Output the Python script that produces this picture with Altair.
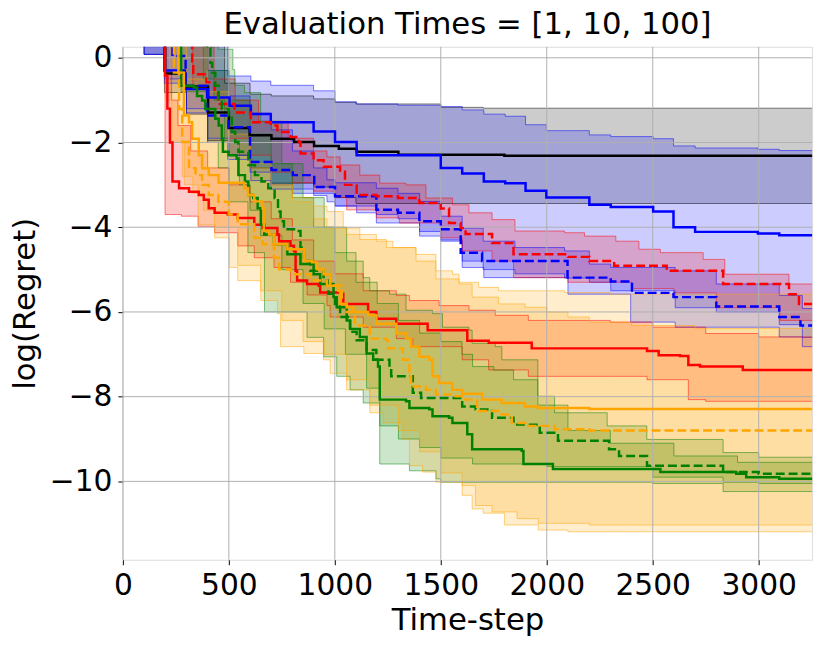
import altair as alt
import pandas as pd

FONT = "DejaVu Sans"

X_TICKS = [0, 500, 1000, 1500, 2000, 2500, 3000]
Y_TICKS = [0, -2, -4, -6, -8, -10]
X_MAX = 3252
Y_MIN, Y_MAX = -11.85, 0.26
T_END = 3300

# ---------------- series data (time-step, log regret) ----------------
black_line = [(0, 0.6), (200, -0.37), (294, -0.68), (402, -1.29), (500, -1.66), (598, -1.83), (701, -1.91),
              (808, -1.99), (902, -2.08), (1019, -2.15), (1103, -2.22), (1300, -2.29), (1800, -2.31)]
black_hi = [(0, 0.6), (480, -0.6), (600, -0.86), (700, -0.90), (900, -0.97), (1000, -1.05), (1100, -1.09),
            (1500, -1.17), (1700, -1.19)]
black_lo = [(0, 0.6), (100, 0.08), (196, -0.82), (300, -1.33), (400, -1.95), (500, -2.3), (600, -2.6),
            (700, -2.96), (900, -3.05), (1000, -3.3), (1100, -3.44)]

blue_solid_line = [(0, 0.6), (196, -0.3), (293, -0.74), (402, -0.94), (503, -1.13), (604, -1.33), (698, -1.52),
                   (900, -1.74), (1001, -1.99), (1103, -2.30), (1500, -2.60), (1601, -2.73), (1703, -2.92),
                   (1804, -2.96), (1900, -3.14), (1998, -3.30), (2201, -3.47), (2302, -3.52), (2502, -3.63),
                   (2598, -4.00), (2700, -4.11), (2996, -4.15), (3097, -4.19)]
blue_solid_hi = [(0, 0.6), (495, -0.43), (604, -0.55), (698, -0.65), (900, -0.78), (1001, -1.04), (1103, -1.09),
                 (1298, -1.12), (1500, -1.15), (1601, -1.23), (1703, -1.33), (1804, -1.38), (1900, -1.58),
                 (1998, -1.72), (2201, -1.82), (2302, -1.86), (2502, -1.91), (2598, -2.08), (2700, -2.13),
                 (2996, -2.16), (3097, -2.19)]
blue_solid_lo = [(0, 0.6), (100, 0.08), (196, -0.6), (300, -1.3), (400, -2.0), (495, -2.4), (604, -2.9),
                 (698, -3.1), (900, -3.2), (1001, -3.5), (1103, -3.66), (1196, -3.9), (1400, -4.21), (1500, -4.33),
                 (1601, -4.95), (1703, -5.19), (2100, -5.58), (2396, -6.24), (2606, -6.36), (3097, -6.59),
                 (3206, -6.82)]

blue_dashed_line = [(0, 0.6), (234, 0.04), (296, -0.66), (397, -1.36), (499, -1.64), (600, -2.46), (701, -2.65),
                    (802, -2.77), (903, -3.05), (1001, -3.27), (1196, -3.59), (1298, -3.66), (1399, -3.86),
                    (1500, -4.05), (1594, -4.60), (1695, -4.80), (2098, -5.19), (2302, -5.28), (2402, -5.55),
                    (2598, -5.65), (2800, -5.87), (3097, -6.12), (3197, -6.32)]
blue_dashed_hi = [(0, 0.6), (400, -0.3), (500, -0.9), (600, -1.3), (700, -1.7), (800, -2.2),
                  (900, -2.6), (963, -2.88), (1001, -2.95), (1196, -3.08), (1298, -3.2), (1400, -3.39),
                  (1500, -3.74), (1601, -4.02), (1700, -4.33), (1850, -4.48), (2084, -4.56), (2201, -4.87),
                  (2302, -4.95), (2606, -5.03), (2800, -5.34), (3097, -5.61), (3206, -5.92)]
blue_dashed_lo = [(0, 0.6), (100, 0.08), (196, -0.5), (300, -1.2), (400, -1.9), (500, -2.3), (600, -2.7),
                  (700, -3.0), (800, -3.2), (900, -3.25), (963, -3.4), (1001, -3.5), (1196, -3.7), (1298, -3.8),
                  (1400, -4.1), (1500, -4.3), (1601, -4.8), (1700, -5.0), (1850, -5.1), (2084, -5.2),
                  (2201, -5.3), (2302, -5.5), (2606, -5.9), (2800, -6.0), (3097, -6.3), (3206, -6.6)]

red_solid_line = [(0, 0.6), (199, -0.42), (210, -1.2), (222, -2.0), (234, -2.92), (265, -3.08), (312, -3.16),
                  (358, -3.24), (382, -3.35), (405, -3.55), (433, -3.66), (495, -3.70), (542, -3.78), (620, -3.94),
                  (659, -4.02), (729, -4.17), (737, -4.33), (791, -4.44), (807, -4.56), (815, -5.03), (822, -5.26),
                  (869, -5.34), (924, -5.38), (931, -5.54), (1025, -5.57), (1040, -5.81), (1157, -6.00),
                  (1196, -6.16), (1290, -6.28), (1438, -6.43), (1625, -6.68), (1726, -6.73), (1929, -6.86),
                  (2473, -6.92), (2528, -7.02), (2629, -7.04), (2668, -7.25), (2723, -7.29), (2925, -7.37)]
red_solid_hi = [(0, 0.6), (199, -0.3), (230, -1.0), (260, -1.6), (320, -2.2), (400, -2.6), (500, -3.0),
                (600, -3.4), (700, -3.8), (800, -4.3), (900, -4.8), (1000, -5.1), (1134, -5.50), (1290, -5.61),
                (1352, -5.73), (1492, -5.85), (1633, -5.96), (1757, -6.08), (1913, -6.20), (2300, -6.24),
                (2500, -6.36), (2750, -6.51), (3000, -6.59)]
red_solid_lo = [(0, 0.6), (199, -3.70), (276, -3.74), (355, -3.98), (433, -4.13), (542, -4.44), (620, -4.72),
                (713, -4.95), (791, -5.3), (869, -5.6), (963, -5.85), (978, -6.12), (1134, -6.36), (1290, -6.63),
                (1368, -6.82), (1601, -7.13), (1726, -7.37), (1913, -7.52), (2473, -7.60), (2668, -8.07),
                (2750, -8.11)]

red_dashed_line = [(0, 0.6), (327, -0.08), (332, -0.39), (394, -0.58), (433, -0.82), (449, -1.09), (527, -1.29),
                   (604, -1.52), (698, -1.60), (729, -1.75), (791, -1.87), (830, -1.99), (838, -2.26), (900, -2.42),
                   (947, -2.57), (1025, -2.69), (1048, -3.0), (1103, -3.24), (1196, -3.27), (1298, -3.31),
                   (1399, -3.43), (1500, -3.56), (1539, -3.90), (1594, -4.02), (1617, -4.16), (1742, -4.37),
                   (1843, -4.64), (2100, -4.70), (2201, -4.80), (2318, -4.91), (2566, -5.03), (2832, -5.34),
                   (3143, -5.58), (3190, -5.81)]
red_dashed_hi = [(0, 0.6), (430, -0.5), (530, -1.0), (640, -1.5), (780, -1.9), (900, -2.2), (963, -2.34),
                 (1025, -2.53), (1118, -2.77), (1212, -2.96), (1336, -3.0), (1430, -3.31), (1555, -3.47),
                 (1633, -3.66), (1742, -3.82), (1850, -4.09), (2084, -4.13), (2178, -4.21), (2326, -4.33),
                 (2435, -4.52), (2536, -4.60), (2738, -4.76), (2840, -5.11), (3143, -5.34)]
red_dashed_lo = [(0, 0.6), (330, -0.7), (400, -1.2), (500, -1.9), (600, -2.3), (700, -2.7), (800, -2.95),
                 (900, -3.15), (1000, -3.3), (1056, -3.59), (1196, -3.78), (1305, -3.90), (1500, -4.25),
                 (1601, -4.56), (1742, -4.80), (1843, -5.19), (2100, -5.3), (2400, -5.45), (2600, -5.55),
                 (2800, -5.9), (3100, -6.2)]

orange_solid_line = [(0, 0.6), (262, -0.35), (288, -1.36), (312, -1.52), (327, -1.91), (358, -2.30), (374, -2.61),
                     (405, -2.77), (452, -2.95), (573, -3.08), (590, -3.24), (620, -3.39), (659, -3.55),
                     (665, -4.09), (690, -4.17), (713, -4.40), (776, -4.52), (854, -4.80), (892, -4.83),
                     (916, -4.99), (947, -5.11), (978, -5.38), (1017, -5.50), (1025, -5.81), (1056, -5.89),
                     (1087, -6.00), (1157, -6.08), (1196, -6.28), (1290, -6.51), (1336, -6.63), (1360, -6.82),
                     (1399, -7.06), (1446, -7.13), (1461, -7.52), (1492, -7.68), (1555, -7.84), (1601, -7.93),
                     (1695, -8.07), (1788, -8.15), (1897, -8.23), (1958, -8.27), (2200, -8.29)]
orange_solid_hi = [(0, 0.6), (300, -0.5), (400, -1.3), (500, -2.0), (600, -2.6), (700, -3.0),
                   (800, -3.3), (900, -3.5), (963, -3.63), (1040, -4.02), (1118, -4.17), (1196, -4.33),
                   (1274, -4.48), (1383, -4.64), (1477, -5.03), (1555, -5.11), (1586, -5.30), (1679, -5.42),
                   (1773, -5.50), (2084, -5.54), (2300, -5.58)]
orange_solid_lo = [(0, 0.6), (200, -1.0), (230, -2.0), (290, -3.0), (355, -3.94), (433, -4.25), (503, -4.95),
                   (542, -5.26), (651, -5.73), (729, -6.04), (744, -6.82), (854, -6.98), (947, -7.13),
                   (978, -7.45), (1056, -7.84), (1165, -8.38), (1228, -8.62), (1321, -9.01), (1352, -9.63),
                   (1414, -9.78), (1477, -10.02), (1601, -10.33), (1648, -10.65), (1700, -10.75), (1800, -11.03),
                   (1960, -11.15), (2100, -11.19)]

orange_dashed_line = [(0, 0.6), (241, -0.35), (265, -1.21), (280, -1.99), (312, -2.61), (343, -2.77), (374, -3.0),
                      (405, -3.24), (450, -3.4), (500, -3.7), (542, -3.93), (620, -4.25), (659, -4.40),
                      (713, -4.72), (737, -4.99), (791, -5.11), (885, -5.26), (963, -5.38), (1033, -5.81),
                      (1056, -6.00), (1095, -6.32), (1150, -6.36), (1165, -6.63), (1243, -6.67), (1251, -6.86),
                      (1321, -7.13), (1352, -7.45), (1360, -7.76), (1430, -7.84), (1477, -7.95), (1570, -7.99),
                      (1617, -8.07), (1671, -8.34), (1788, -8.42), (1835, -8.62), (1913, -8.69), (2037, -8.77),
                      (2200, -8.80)]
orange_dashed_hi = [(0, 0.6), (400, -0.8), (500, -1.8), (600, -2.5), (700, -3.0), (800, -3.4),
                    (900, -3.8), (963, -4.02), (1056, -4.17), (1118, -4.29), (1243, -4.48), (1383, -4.80),
                    (1477, -5.22), (1586, -5.34), (1648, -5.65), (1773, -5.81), (1897, -5.89), (2000, -6.0),
                    (2100, -6.12), (2200, -6.24), (2400, -6.32), (2700, -6.39)]
orange_dashed_lo = [(0, 0.6), (220, -2.0), (280, -2.8), (330, -3.2), (380, -3.6), (433, -4.0), (542, -4.9),
                    (650, -5.5), (750, -6.2), (850, -6.7), (950, -7.0), (1056, -7.6), (1165, -8.2), (1300, -8.8),
                    (1400, -9.3), (1500, -9.8), (1600, -10.1), (1664, -10.57), (1742, -10.72), (1860, -10.88),
                    (1960, -10.99), (2200, -11.03)]

green_solid_line = [(0, 0.6), (275, -0.66), (335, -0.70), (350, -0.90), (374, -1.01), (389, -1.21), (436, -1.44),
                    (452, -1.60), (467, -1.91), (472, -2.22), (499, -2.30), (537, -2.38), (545, -2.77),
                    (576, -2.92), (592, -3.24), (615, -3.31), (636, -3.55), (651, -3.94), (667, -4.17),
                    (713, -4.40), (776, -4.64), (838, -4.87), (900, -5.11), (931, -5.34), (994, -5.65),
                    (1009, -5.89), (1056, -6.20), (1072, -6.40), (1118, -6.59), (1150, -6.98), (1181, -7.13),
                    (1204, -7.29), (1212, -8.07), (1336, -8.11), (1352, -8.27), (1446, -8.30), (1461, -8.46),
                    (1539, -8.50), (1555, -8.62), (1625, -8.89), (1648, -9.24), (1882, -9.28), (1890, -9.59),
                    (2029, -9.71), (2536, -9.78), (2894, -9.82), (2941, -9.90), (3097, -9.94)]
green_solid_hi = [(0, 0.6), (400, -0.3), (500, -1.0), (600, -1.8), (700, -2.5), (800, -3.3),
                  (900, -4.0), (1000, -4.6), (1100, -5.3), (1200, -5.8), (1300, -6.2), (1400, -6.5), (1500, -6.7),
                  (1600, -7.0), (1650, -7.29), (1750, -7.37), (1843, -7.60), (1958, -8.2), (2100, -8.8),
                  (2300, -9.1), (2600, -9.4), (2900, -9.55)]
green_solid_lo = [(0, 0.6), (275, -0.8), (400, -2.0), (450, -2.6), (500, -3.4), (590, -4.6), (668, -6.0),
                  (869, -6.6), (947, -7.06), (1009, -7.52), (1072, -7.84), (1134, -8.15), (1212, -9.59),
                  (1352, -9.75), (1477, -9.94), (1500, -10.02), (2500, -10.05), (2832, -10.24)]

green_dashed_line = [(0, 0.6), (397, 0.23), (413, -0.12), (421, -0.35), (436, -0.66), (452, -0.97), (467, -1.21),
                     (499, -1.36), (514, -1.75), (530, -1.99), (545, -2.22), (592, -2.53), (623, -2.77),
                     (654, -2.92), (686, -3.08), (716, -3.31), (732, -3.63), (744, -3.86), (760, -4.05),
                     (822, -4.09), (838, -4.48), (854, -4.80), (885, -5.03), (947, -5.26), (970, -5.57),
                     (1001, -5.81), (1025, -6.12), (1072, -6.47), (1103, -6.67), (1150, -6.90), (1196, -7.13),
                     (1258, -7.33), (1266, -7.52), (1368, -7.91), (1407, -8.03), (1601, -8.23), (1664, -8.30),
                     (1742, -8.50), (1843, -8.66), (1967, -8.85), (2053, -9.04), (2294, -9.24), (2341, -9.40),
                     (2473, -9.63), (2832, -9.78), (3000, -9.82)]
green_dashed_hi = [(0, 0.6), (450, 0.2), (519, -0.28), (528, -0.65), (574, -0.82), (650, -1.5),
                   (750, -2.5), (850, -3.3), (950, -4.0), (1056, -4.80), (1134, -5.19), (1165, -5.50),
                   (1258, -5.58), (1336, -5.96), (1461, -6.04), (1508, -6.36), (1633, -6.43), (1648, -6.74),
                   (1757, -6.82), (1788, -7.13), (1958, -7.99), (2037, -8.38), (2285, -8.69), (2472, -9.01),
                   (2832, -9.32), (3000, -9.43)]
green_dashed_lo = [(0, 0.6), (380, -0.5), (430, -1.0), (480, -2.0), (550, -3.0), (600, -3.6), (650, -4.2),
                   (750, -5.0), (850, -5.8), (950, -6.4), (1050, -7.0), (1150, -7.8), (1212, -8.69), (1300, -9.0),
                   (1400, -9.2), (1500, -9.45), (1650, -9.59), (2000, -9.65), (2500, -9.9), (2832, -10.02),
                   (3000, -10.05)]

# name, colour, dash, line, lower, upper  (listed in drawing order)
SERIES = [
    ("black", "#000000", "solid", black_line, black_lo, black_hi),
    ("blue_solid", "#0000ff", "solid", blue_solid_line, blue_solid_lo, blue_solid_hi),
    ("blue_dashed", "#0000ff", "dashed", blue_dashed_line, blue_dashed_lo, blue_dashed_hi),
    ("red_solid", "#ff0000", "solid", red_solid_line, red_solid_lo, red_solid_hi),
    ("red_dashed", "#ff0000", "dashed", red_dashed_line, red_dashed_lo, red_dashed_hi),
    ("green_solid", "#008000", "solid", green_solid_line, green_solid_lo, green_solid_hi),
    ("green_dashed", "#008000", "dashed", green_dashed_line, green_dashed_lo, green_dashed_hi),
    ("orange_solid", "#ffa500", "solid", orange_solid_line, orange_solid_lo, orange_solid_hi),
    ("orange_dashed", "#ffa500", "dashed", orange_dashed_line, orange_dashed_lo, orange_dashed_hi),
]


def held(pts, t):
    v = pts[0][1]
    for tt, yy in pts:
        if tt <= t:
            v = yy
        else:
            break
    return v


xs = alt.Scale(domain=[0, X_MAX], nice=False, zero=False)
ys = alt.Scale(domain=[Y_MIN, Y_MAX], nice=False, zero=False)

W, H = 696, 518

xaxis = alt.Axis(values=X_TICKS, format="d", grid=False, domain=False, ticks=True, tickSize=5,
                 tickColor="black", tickWidth=1, labelFontSize=30, labelFont=FONT, labelColor="black",
                 labelPadding=6, labelFlush=False, labelOverlap=False,
                 title="Time-step", titleFontSize=31, titleFont=FONT, titleFontWeight="normal",
                 titleColor="black", titleX=W / 2, titleY=70, titleAlign="center",
                 titleBaseline="alphabetic")
yaxis = alt.Axis(values=Y_TICKS, format="d", grid=False, domain=False, ticks=True, tickSize=5,
                 tickColor="black", tickWidth=1, labelFontSize=30, labelFont=FONT, labelColor="black",
                 labelPadding=6, labelFlush=False, labelOverlap=False,
                 title="log(Regret)", titleFontSize=31, titleFont=FONT, titleFontWeight="normal",
                 titleColor="black", titleX=-89, titleY=H / 2, titleAlign="center",
                 titleBaseline="alphabetic", titleAngle=270)


def X(f):
    return alt.X(f, scale=xs, axis=xaxis)


def Y(f):
    return alt.Y(f, scale=ys, axis=yaxis)


area_layers, edge_layers, line_layers = [], [], []
for name, col, dash, line, lo, hi in SERIES:
    ldf = pd.DataFrame([{"t": t, "y": y} for t, y in line + [(T_END, line[-1][1])]])
    ts = sorted(set([p[0] for p in lo] + [p[0] for p in hi] + [T_END]))
    bdf = pd.DataFrame([{"t": t, "lo": held(lo, t), "hi": held(hi, t)} for t in ts])

    area_layers.append(
        alt.Chart(bdf).mark_area(interpolate="step-after", clip=True, color=col, opacity=0.2)
        .encode(x=X("t:Q"), y=Y("lo:Q"), y2="hi:Q"))
    for fld in ("lo", "hi"):
        edge_layers.append(
            alt.Chart(bdf).mark_line(interpolate="step-after", clip=True, color=col, strokeWidth=1,
                                     opacity=0.5)
            .encode(x=X("t:Q"), y=Y(f"{fld}:Q")))
    dash_arr = [1, 0] if dash == "solid" else [9, 4]
    line_layers.append(
        alt.Chart(ldf).mark_line(interpolate="step-after", clip=True, color=col, strokeWidth=2.5,
                                 strokeDash=dash_arr)
        .encode(x=X("t:Q"), y=Y("y:Q")))

gx_df = pd.DataFrame({"v": X_TICKS})
gy_df = pd.DataFrame({"v": Y_TICKS})
grid_x = alt.Chart(gx_df).mark_rule(color="#b0b0b0", strokeWidth=1).encode(x=X("v:Q"))
grid_y = alt.Chart(gy_df).mark_rule(color="#b0b0b0", strokeWidth=1).encode(y=Y("v:Q"))

chart = alt.layer(*area_layers, *edge_layers, grid_x, grid_y, *line_layers).properties(
    width=W, height=H,
    title=alt.TitleParams("Evaluation Times = [1, 10, 100]", fontSize=31, font=FONT, fontWeight="normal",
                          color="black", anchor="middle", offset=2),
    autosize=alt.AutoSizeParams(type="none"),
    padding={"left": 116, "top": 36, "right": 11, "bottom": 89},
).configure_view(stroke="black", strokeWidth=1).configure(font=FONT, background="white")

chart.save("out.html", embed_options={"renderer": "svg", "actions": False})
